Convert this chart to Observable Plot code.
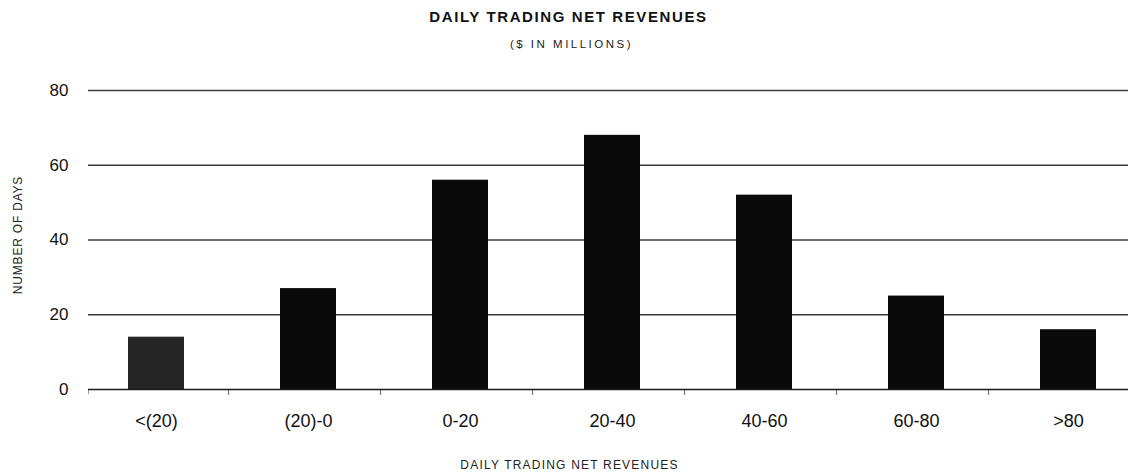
<!DOCTYPE html>
<html>
<head>
<meta charset="utf-8">
<script src="https://cdn.jsdelivr.net/npm/d3@7"></script>
<script src="https://cdn.jsdelivr.net/npm/@observablehq/plot@0.6"></script>
<style>
  html, body { margin: 0; padding: 0; background: #fff; }
  svg { display: block; }
</style>
</head>
<body>
<div id="chart"></div>
<script>
const categories = ["<(20)", "(20)-0", "0-20", "20-40", "40-60", "60-80", ">80"];
const days = [14, 27, 56, 68, 52, 25, 16];
const yTicks = [0, 20, 40, 60, 80];
const titleText = "DAILY TRADING NET REVENUES";
const subtitleText = "($ IN MILLIONS)";
const xTitle = "DAILY TRADING NET REVENUES";
const yTitle = "NUMBER OF DAYS";

const data = categories.map((c, i) => ({cat: c, value: days[i]}));
const font = "'Liberation Sans', Arial, Helvetica, sans-serif";

const chart = Plot.plot({
  width: 1128,
  height: 476,
  marginLeft: 88,
  marginRight: 0,
  marginTop: 90,
  marginBottom: 87,
  style: {fontFamily: font, background: "#fff", color: "#111"},
  x: {domain: categories, range: [80, 1144], paddingInner: 0.632, paddingOuter: 0.316},
  y: {domain: [0, 80]},
  marks: [
    Plot.ruleY(yTicks.filter(d => d !== 0), {stroke: "#3c3c3c", strokeWidth: 1.4}),
    Plot.ruleX(categories.slice(1), {x: d => d, y1: 0, y2: 0, insetBottom: -6, dx: -80, stroke: "#777", strokeWidth: 1.2}),
    Plot.ruleX(categories.slice(0, 1), {x: d => d, y1: 0, y2: 0, insetBottom: -5, dx: -68, stroke: "#999", strokeWidth: 1}),
    Plot.barY(data, {x: "cat", y: "value", fill: d => d.cat === "<(20)" ? "#262626" : "#0a0a0a"}),
    Plot.ruleY([0], {stroke: "#1a1a1a", strokeWidth: 1.6}),
    Plot.axisY({ticks: yTicks, tickSize: 0, tickPadding: 20, fontSize: 17, label: null, fill: "#111"}),
    Plot.axisX({tickSize: 0, tickPadding: 25, fontSize: 18, label: null, fill: "#111"}),
    Plot.text([titleText], {frameAnchor: "top", textAnchor: "middle", dx: -40, dy: -73, lineAnchor: "middle", fontSize: 15, fontWeight: "bold", fill: "#111"}),
    Plot.text([subtitleText], {frameAnchor: "top", textAnchor: "middle", dx: -37, dy: -46, lineAnchor: "middle", fontSize: 11.5, fill: "#222"}),
    Plot.text([xTitle], {frameAnchor: "bottom", textAnchor: "middle", dx: -39, dy: 76, lineAnchor: "middle", fontSize: 12, fill: "#222"}),
    Plot.text([yTitle], {frameAnchor: "left", textAnchor: "middle", dx: -70, dy: -5, rotate: -90, lineAnchor: "middle", fontSize: 12, fill: "#222"})
  ]
});

// letter spacing for the title texts (applied in DOM order)
const spacingByText = [
  [titleText, "1.6px"],
  [subtitleText, "2.5px"],
  [xTitle, "1.2px"],
  [yTitle, "0.8px"]
];
const used = new Set();
spacingByText.forEach(([txt, ls]) => {
  const el = Array.from(chart.querySelectorAll("text")).find(t => t.textContent === txt && !used.has(t));
  if (el) {
    used.add(el);
    el.setAttribute("letter-spacing", ls);
    el.style.letterSpacing = ls;
  }
});
document.getElementById("chart").appendChild(chart);
</script>
</body>
</html>
